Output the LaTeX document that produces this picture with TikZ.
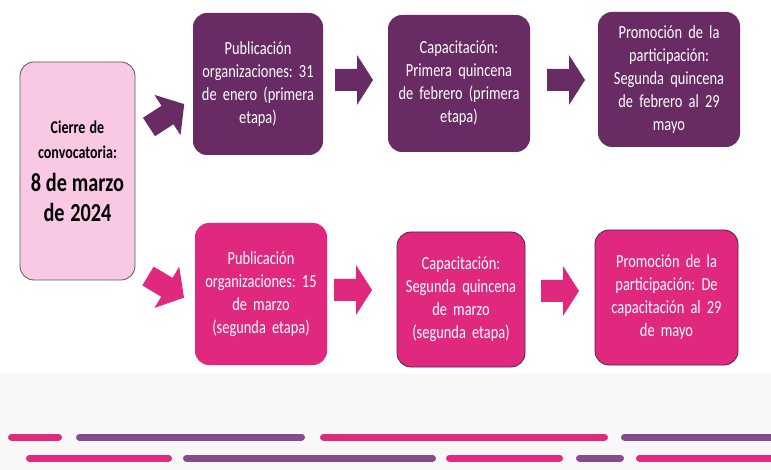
\documentclass[tikz,border=0pt]{standalone}
\usepackage{fontspec}
\setmainfont{Carlito}[FakeStretch=0.78]
\definecolor{darkpurple}{HTML}{692B63}
\definecolor{magentab}{HTML}{E0287F}
\definecolor{lightpink}{HTML}{F9C8E5}
\definecolor{barpurple}{HTML}{874A8A}
\definecolor{barmag}{HTML}{DF2A7E}
\definecolor{bandgrey}{HTML}{F8F8F8}
\newcommand{\tightspaces}{\frenchspacing\spaceskip=0.16em plus 0.05em minus 0.03em\relax}
\tikzset{
  box/.style={rounded corners=14pt, align=center, inner sep=0pt, text=white,
    font=\fontsize{18.5}{23}\selectfont\tightspaces},
  purplebox/.style={box, fill=darkpurple},
  pinkbox/.style={box, fill=magentab},
  edgedbox/.style={pinkbox, draw=darkpurple!80!black, line width=0.8pt},
  bar/.style={line width=7pt, line cap=round},
  bigarrow/.pic={\fill[pic actions] (0,-11) -- (22,-11) -- (22,-25) -- (38,0) -- (22,25) -- (22,11) -- (0,11) -- cycle;},
  smallarrow/.pic={\fill[pic actions] (0,-11) -- (22,-11) -- (22,-24) -- (42,0) -- (22,24) -- (22,11) -- (0,11) -- cycle;}
}
\begin{document}
\begin{tikzpicture}[x=1pt,y=-1pt]
\useasboundingbox (0,0) rectangle (771,470);
\fill[white] (0,0) rectangle (771,470);
\fill[bandgrey] (0,374) rectangle (771,470);
% left box
\node[draw=black!65, line width=0.8pt, fill=lightpink, rounded corners=14pt,
  minimum width=115pt, minimum height=218pt, inner sep=0pt, align=center,
  text width=112pt, font=\bfseries] (cierre) at (77.5,171)
  {{\fontsize{18}{25}\selectfont\tightspaces Cierre de\\ convocatoria:\par}\vspace{3pt}
   {\fontsize{26}{30}\selectfont\tightspaces 8 de marzo\\ de 2024\par}};
% top row
\node[purplebox, minimum width=130pt, minimum height=142pt, text width=128pt] (p1) at (258,84)
  {Publicación\\ organizaciones: 31\\ de enero (primera\\ etapa)};
\node[purplebox, minimum width=142pt, minimum height=137pt, text width=140pt] (p2) at (459,83.5)
  {Capacitación:\\ Primera quincena\\ de febrero (primera\\ etapa)};
\node[purplebox, minimum width=142pt, minimum height=135pt, text width=140pt] (p3) at (669,79.5)
  {Promoción de la\\ participación:\\ Segunda quincena\\ de febrero al 29\\ mayo};
% bottom row
\node[pinkbox, minimum width=132pt, minimum height=142pt, text width=130pt] (m1) at (261,294)
  {Publicación\\ organizaciones: 15\\ de marzo\\ (segunda etapa)};
\node[edgedbox, minimum width=128pt, minimum height=135pt, text width=126pt] (m2) at (461,299.5)
  {Capacitación:\\ Segunda quincena\\ de marzo\\ (segunda etapa)};
\node[edgedbox, minimum width=143pt, minimum height=135pt, text width=141pt] (m3) at (666.5,297.5)
  {Promoción de la\\ participación: De\\ capacitación al 29\\ de mayo};
% block arrows
\pic[fill=darkpurple, rotate=33] at (149,127) {smallarrow};
\pic[fill=magentab, rotate=-31] at (148,276) {smallarrow};
\pic[fill=darkpurple] at (335,80) {bigarrow};
\pic[fill=darkpurple] at (547,80) {bigarrow};
\pic[fill=magentab] at (334,290) {bigarrow};
\pic[fill=magentab] at (541,291) {bigarrow};
% bottom bars
\begin{scope}
\clip (0,0) rectangle (771,470);
\draw[bar, barmag] (11.5,437) -- (58.5,437);
\draw[bar, barpurple] (79.5,437) -- (301.5,437);
\draw[bar, barmag] (323.5,437) -- (604.5,437);
\draw[bar, barpurple] (624.5,437) -- (790,437);
\draw[bar, barmag] (29.5,458) -- (168.5,458);
\draw[bar, barpurple] (186.5,458) -- (432.5,458);
\draw[bar, barmag] (449.5,458) -- (559.5,458);
\draw[bar, barpurple] (579.5,458) -- (620.5,458);
\draw[bar, barmag] (639.5,458) -- (790,458);
\end{scope}
\end{tikzpicture}
\end{document}
